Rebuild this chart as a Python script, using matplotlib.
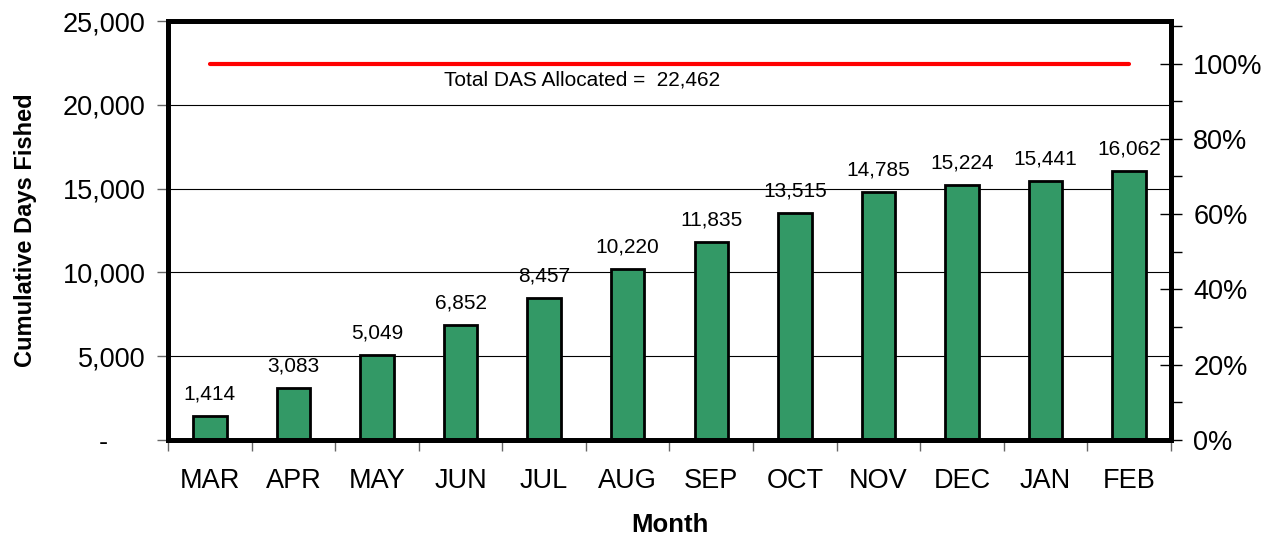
import matplotlib
matplotlib.use("Agg")
import matplotlib.pyplot as plt
from matplotlib.ticker import FixedLocator, FuncFormatter, MultipleLocator

months = ["MAR", "APR", "MAY", "JUN", "JUL", "AUG", "SEP", "OCT", "NOV", "DEC", "JAN", "FEB"]
days_fished = [1414, 3083, 5049, 6852, 8457, 10220, 11835, 13515, 14785, 15224, 15441, 16062]
das_allocated = 22462
left_ticks = [0, 5000, 10000, 15000, 20000, 25000]
pct_ticks = [0, 0.2, 0.4, 0.6, 0.8, 1.0]

plt.rcParams["font.family"] = ["Liberation Sans", "DejaVu Sans"]

fig = plt.figure(figsize=(12.7, 5.35), dpi=100)
ax = fig.add_axes([0.1323, 0.1776, 0.7897, 0.7831])

x = list(range(len(months)))
ax.set_axisbelow(True)
for v in left_ticks[1:-1]:
    ax.axhline(v, color="black", linewidth=0.8, zorder=0)

ax.bar(x, days_fished, width=0.4, color="#339966", edgecolor="black", linewidth=2, zorder=2)

for xi, v in zip(x, days_fished):
    ax.annotate(f"{v:,}", (xi, v), xytext=(0, 9), textcoords="offset points",
                ha="center", va="bottom", fontsize=15)

ax.plot([x[0], x[-1]], [das_allocated, das_allocated], color="#ff0000", linewidth=3,
        solid_capstyle="round", zorder=3)
ax.text(4.46, das_allocated - 400, f"Total DAS Allocated =  {das_allocated:,}",
        ha="center", va="top", fontsize=15)

ax.set_xlim(-0.5, len(months) - 0.5)
ax.set_ylim(0, 25000)

# category boundaries carry the tick marks, centers carry the labels
ax.xaxis.set_major_locator(FixedLocator([i - 0.5 for i in range(len(months) + 1)]))
ax.xaxis.set_major_formatter(FuncFormatter(lambda v, p: ""))
ax.xaxis.set_minor_locator(FixedLocator(x))
ax.set_xticks(x, months, minor=True)
ax.tick_params(axis="x", which="major", direction="out", length=8, width=1, color="#666666")
ax.tick_params(axis="x", which="minor", length=0, pad=20, labelsize=19.5)

ax.set_yticks(left_ticks)
# accounting style: zero shows as a dash set in from the right
ax.yaxis.set_major_formatter(FuncFormatter(lambda v, p: "-     " if v == 0 else f"{int(v):,}"))
ax.tick_params(axis="y", direction="out", length=8, width=1, color="#666666", pad=8, labelsize=19.5)

for side in ax.spines.values():
    side.set_linewidth(3.5)

ax.set_ylabel("Cumulative Days Fished", fontsize=17, fontweight="bold", labelpad=19)
ax.set_xlabel("Month", fontsize=18.5, fontweight="bold", labelpad=14)

ax2 = ax.twinx()
ax2.set_ylim(0, 25000 / das_allocated)
ax2.set_yticks(pct_ticks)
ax2.yaxis.set_minor_locator(MultipleLocator(0.1))
ax2.yaxis.set_major_formatter(FuncFormatter(lambda v, p: f"{v * 100:.0f}%"))
ax2.tick_params(axis="y", which="major", direction="inout", length=16, width=1, pad=8, labelsize=19.5)
ax2.tick_params(axis="y", which="minor", direction="out", length=8, width=1)
for side in ax2.spines.values():
    side.set_linewidth(3.5)

fig.savefig("out.png", dpi=100)
